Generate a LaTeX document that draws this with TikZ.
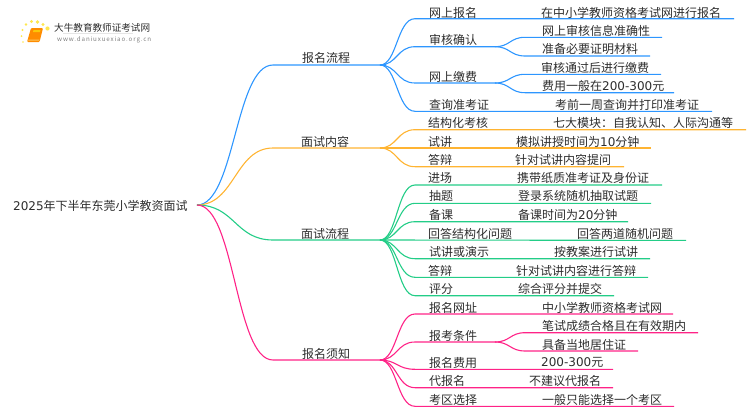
\documentclass[tikz,border=0pt]{standalone}
\usepackage{xcolor}
\usepackage{fontspec}
\setmainfont{Noto Sans CJK SC}
\newfontfamily\digitfont{DejaVu Sans}
\usepackage{tikz}
\definecolor{mapblue}{RGB}{45, 150, 255}
\definecolor{maporange}{RGB}{255, 180, 50}
\definecolor{mapgreen}{RGB}{35, 205, 135}
\definecolor{mappink}{RGB}{255, 35, 135}
\definecolor{maptext}{RGB}{45, 45, 45}
\tikzset{
  txt/.style={anchor=west, inner sep=0pt, yshift=-0.8pt, text=maptext, font=\fontsize{12}{14}\selectfont},
  bluelink/.style={draw=mapblue, line width=1.1pt},
  orangelink/.style={draw=maporange, line width=1.1pt},
  greenlink/.style={draw=mapgreen, line width=1.1pt},
  pinklink/.style={draw=mappink, line width=1.1pt}
}

\begin{document}
\begin{tikzpicture}[x=1pt, y=-1pt]
\useasboundingbox (0,0) rectangle (750,410);

% Logo
\fill[yellow!80!orange, opacity=0.7] (47.5,28.5) circle (2.1) (43,24.5) circle (1.7) (37.5,22) circle (1.8) (31.5,21.5) circle (1.6) (26,24.5) circle (1.4) (22.5,30) circle (1.2) (21.5,36) circle (1) (23,42) circle (0.8);
\fill[orange!90!yellow, rounded corners=1pt] (31,28) -- (43,28) -- (39.5,42) -- (27,42) -- cycle;
\fill[yellow!60!orange] (33.5,30) -- (40.5,30) -- (40,32) -- (33,32) -- cycle;
\fill[yellow!30!orange!60] (28.5,39.5) -- (39.5,39.5) -- (39.2,40.5) -- (28.2,40.5) -- cycle;
\draw[black!10, line width=0.5pt] (63,33) -- (133,33);
\node[txt, font=\fontsize{9.6}{11}\selectfont] (logotitle) at (54,27) {大牛教育教师证考试网};
\node[txt, font=\fontsize{6.2}{8}\selectfont\addfontfeature{LetterSpace=14}, text=black!50] (logourl) at (57,39) {www.daniuxuexiao.org.cn};

% Root
\node[txt] (root) at (13,205) {{\digitfont 2025}年下半年东莞小学教资面试};
\coordinate (rootend) at (197,205);

% Branch 1
\node[txt] (baoming) at (302,57) {报名流程};
\coordinate (baomingS) at (273,65);
\coordinate (baomingE) at (380,65);
\draw[bluelink] (rootend) .. controls (235,205) and (235,65) .. (baomingS) -- (baomingE);

\node[txt] (wangbao) at (429,12) {网上报名};
\node[txt] (wangbaoT) at (541,12) {在中小学教师资格考试网进行报名};
\coordinate (wangbaoS) at (415,18.7);
\coordinate (wangbaoE) at (734,18.7);
\draw[bluelink] (baomingE) .. controls (397,65) and (397,18.7) .. (wangbaoS) -- (wangbaoE);

\node[txt] (shenhe) at (429,39) {审核确认};
\coordinate (shenheS) at (415,46.7);
\coordinate (shenheE) at (495,46.7);
\draw[bluelink] (baomingE) .. controls (397,65) and (397,46.7) .. (shenheS) -- (shenheE);
\node[txt] (shenheA) at (542,30) {网上审核信息准确性};
\coordinate (shenheAS) at (525,37.3);
\coordinate (shenheAE) at (662,37.3);
\draw[bluelink] (shenheE) .. controls (510,46.7) and (510,37.3) .. (shenheAS) -- (shenheAE);
\node[txt] (shenheB) at (542,48) {准备必要证明材料};
\coordinate (shenheBS) at (525,56);
\coordinate (shenheBE) at (650,56);
\draw[bluelink] (shenheE) .. controls (510,46.7) and (510,56) .. (shenheBS) -- (shenheBE);

\node[txt] (jiaofei) at (429,76) {网上缴费};
\coordinate (jiaofeiS) at (415,83);
\coordinate (jiaofeiE) at (495,83);
\draw[bluelink] (baomingE) .. controls (397,65) and (397,83) .. (jiaofeiS) -- (jiaofeiE);
\node[txt] (jiaofeiA) at (541,67) {审核通过后进行缴费};
\coordinate (jiaofeiAS) at (525,74.3);
\coordinate (jiaofeiAE) at (661,74.3);
\draw[bluelink] (jiaofeiE) .. controls (510,83) and (510,74.3) .. (jiaofeiAS) -- (jiaofeiAE);
\node[txt] (jiaofeiB) at (542,85) {费用一般在{\digitfont 200-300}元};
\coordinate (jiaofeiBS) at (525,92.7);
\coordinate (jiaofeiBE) at (674,92.7);
\draw[bluelink] (jiaofeiE) .. controls (510,83) and (510,92.7) .. (jiaofeiBS) -- (jiaofeiBE);

\node[txt] (chaxun) at (429,104) {查询准考证};
\node[txt] (chaxunT) at (555,104) {考前一周查询并打印准考证};
\coordinate (chaxunS) at (415,111.3);
\coordinate (chaxunE) at (712,111.3);
\draw[bluelink] (baomingE) .. controls (397,65) and (397,111.3) .. (chaxunS) -- (chaxunE);

% Branch 2
\node[txt] (neirong) at (301,141) {面试内容};
\coordinate (neirongS) at (273,148);
\coordinate (neirongE) at (380,148);
\draw[orangelink] (rootend) .. controls (235,205) and (235,148) .. (neirongS) -- (neirongE);

\node[txt] (jiegou) at (428,122) {结构化考核};
\node[txt] (jiegouT) at (553,122) {七大模块：自我认知、人际沟通等};
\coordinate (jiegouS) at (415,129.7);
\coordinate (jiegouE) at (746,129.7);
\draw[orangelink] (neirongE) .. controls (397,148) and (397,129.7) .. (jiegouS) -- (jiegouE);

\node[txt] (shijiang) at (428,141) {试讲};
\node[txt] (shijiangT) at (516,141) {模拟讲授时间为{\digitfont 10}分钟};
\coordinate (shijiangE) at (651,148);
\draw[orangelink] (neirongE) -- (shijiangE);

\node[txt] (dabian) at (428,159) {答辩};
\node[txt] (dabianT) at (515,159) {针对试讲内容提问};
\coordinate (dabianS) at (415,166.7);
\coordinate (dabianE) at (624,166.7);
\draw[orangelink] (neirongE) .. controls (397,148) and (397,166.7) .. (dabianS) -- (dabianE);

% Branch 3
\node[txt] (liucheng) at (301,233) {面试流程};
\coordinate (liuchengS) at (273,240);
\coordinate (liuchengE) at (380,240);
\draw[greenlink] (rootend) .. controls (235,205) and (235,240) .. (liuchengS) -- (liuchengE);

\node[txt] (jinchang) at (428,177) {进场};
\node[txt] (jinchangT) at (517,177) {携带纸质准考证及身份证};
\coordinate (jinchangS) at (415,185);
\coordinate (jinchangE) at (662,185);
\draw[greenlink] (liuchengE) .. controls (397,240) and (397,185) .. (jinchangS) -- (jinchangE);

\node[txt] (chouti) at (429,195) {抽题};
\node[txt] (choutiT) at (518,195) {登录系统随机抽取试题};
\coordinate (choutiS) at (415,203.3);
\coordinate (choutiE) at (651,203.3);
\draw[greenlink] (liuchengE) .. controls (397,240) and (397,203.3) .. (choutiS) -- (choutiE);

\node[txt] (beike) at (429,214) {备课};
\node[txt] (beikeT) at (518,214) {备课时间为{\digitfont 20}分钟};
\coordinate (beikeS) at (415,221.7);
\coordinate (beikeE) at (628,221.7);
\draw[greenlink] (liuchengE) .. controls (397,240) and (397,221.7) .. (beikeS) -- (beikeE);

\node[txt] (huida) at (428,233) {回答结构化问题};
\node[txt] (huidaT) at (577,233) {回答两道随机问题};
\coordinate (huidaE) at (686,240.4);
\draw[greenlink] (liuchengE) -- (huidaE);

\node[txt] (yanshi) at (429,251) {试讲或演示};
\node[txt] (yanshiT) at (554,251) {按教案进行试讲};
\coordinate (yanshiS) at (415,258.7);
\coordinate (yanshiE) at (650,258.7);
\draw[greenlink] (liuchengE) .. controls (397,240) and (397,258.7) .. (yanshiS) -- (yanshiE);

\node[txt] (dabianb) at (428,270) {答辩};
\node[txt] (dabianbT) at (516,270) {针对试讲内容进行答辩};
\coordinate (dabianbS) at (415,277.3);
\coordinate (dabianbE) at (648,277.3);
\draw[greenlink] (liuchengE) .. controls (397,240) and (397,277.3) .. (dabianbS) -- (dabianbE);

\node[txt] (pingfen) at (429,288) {评分};
\node[txt] (pingfenT) at (518,288) {综合评分并提交};
\coordinate (pingfenS) at (415,295.7);
\coordinate (pingfenE) at (614,295.7);
\draw[greenlink] (liuchengE) .. controls (397,240) and (397,295.7) .. (pingfenS) -- (pingfenE);

% Branch 4
\node[txt] (xuzhi) at (302,353) {报名须知};
\coordinate (xuzhiS) at (273,360);
\coordinate (xuzhiE) at (380,360);
\draw[pinklink] (rootend) .. controls (235,205) and (235,360) .. (xuzhiS) -- (xuzhiE);

\node[txt] (wangzhi) at (429,307) {报名网址};
\node[txt] (wangzhiT) at (542,307) {中小学教师资格考试网};
\coordinate (wangzhiS) at (415,314);
\coordinate (wangzhiE) at (673,314);
\draw[pinklink] (xuzhiE) .. controls (397,360) and (397,314) .. (wangzhiS) -- (wangzhiE);

\node[txt] (tiaojian) at (429,335) {报考条件};
\coordinate (tiaojianS) at (415,342);
\coordinate (tiaojianE) at (495,342);
\draw[pinklink] (xuzhiE) .. controls (397,360) and (397,342) .. (tiaojianS) -- (tiaojianE);
\node[txt] (tiaojianA) at (542,325) {笔试成绩合格且在有效期内};
\coordinate (tiaojianAS) at (525,332.7);
\coordinate (tiaojianAE) at (698,332.7);
\draw[pinklink] (tiaojianE) .. controls (510,342) and (510,332.7) .. (tiaojianAS) -- (tiaojianAE);
\node[txt] (tiaojianB) at (542,344) {具备当地居住证};
\coordinate (tiaojianBS) at (525,351);
\coordinate (tiaojianBE) at (638,351);
\draw[pinklink] (tiaojianE) .. controls (510,342) and (510,351) .. (tiaojianBS) -- (tiaojianBE);

\node[txt] (feiyong) at (429,362) {报名费用};
\node[txt] (feiyongT) at (541,362) {{\digitfont 200-300}元};
\coordinate (feiyongS) at (415,369.3);
\coordinate (feiyongE) at (613,369.3);
\draw[pinklink] (xuzhiE) .. controls (397,360) and (397,369.3) .. (feiyongS) -- (feiyongE);

\node[txt] (daibao) at (429,380) {代报名};
\node[txt] (daibaoT) at (529,380) {不建议代报名};
\coordinate (daibaoS) at (415,387.7);
\coordinate (daibaoE) at (613,387.7);
\draw[pinklink] (xuzhiE) .. controls (397,360) and (397,387.7) .. (daibaoS) -- (daibaoE);

\node[txt] (kaoqu) at (429,399) {考区选择};
\node[txt] (kaoquT) at (542,399) {一般只能选择一个考区};
\coordinate (kaoquS) at (415,406.3);
\coordinate (kaoquE) at (674,406.3);
\draw[pinklink] (xuzhiE) .. controls (397,360) and (397,406.3) .. (kaoquS) -- (kaoquE);
\end{tikzpicture}
\end{document}
